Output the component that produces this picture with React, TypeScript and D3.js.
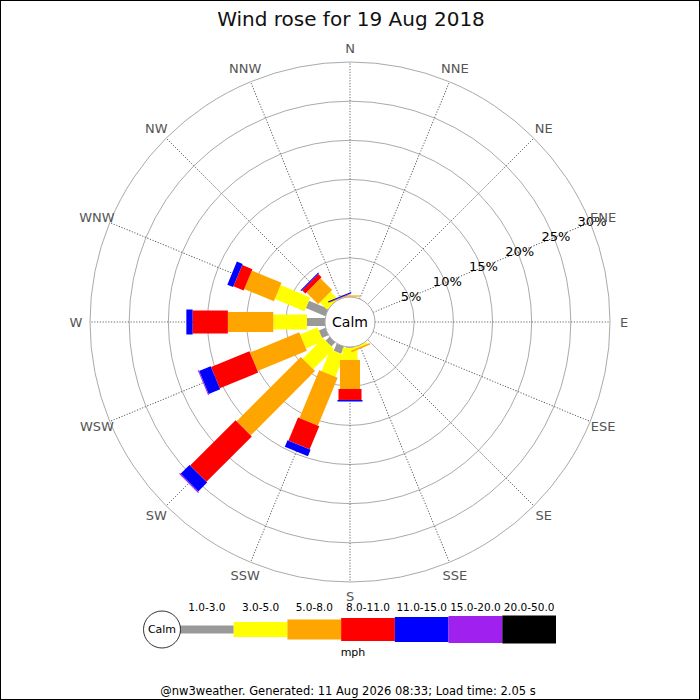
import React, { useRef, useEffect } from 'react';
import * as d3 from 'd3';

// compass points, clockwise from north
const directions = ['N', 'NNE', 'NE', 'ENE', 'E', 'ESE', 'SE', 'SSE', 'S', 'SSW', 'SW', 'WSW', 'W', 'WNW', 'NW', 'NNW'];

// % of the day in each speed band, per direction (same order as directions)
const band1to3 = [0, 0, 0, 0, 0, 0, 0, 0, 0.1, 1.0, 0.7, 0.9, 2.3, 2.7, 0, 0];
const band3to5 = [0.05, 0, 0, 0, 0, 0, 0, 0.25, 1.56, 3.0, 3.7, 2.4, 4.3, 4.1, 1.3, 0.05];
const band5to8 = [0.15, 0, 0, 0, 0, 0, 0, 0.2, 3.7, 6.6, 11.6, 6.8, 5.8, 4.1, 2.1, 0.05];
const band8to11 = [0, 0, 0, 0, 0, 0, 0, 0, 1.4, 3.2, 8.2, 5.3, 4.5, 1.4, 0.6, 0.05];
const band11to15 = [0, 0, 0, 0, 0, 0, 0, 0, 0.2, 0.9, 1.6, 1.6, 0.8, 0.8, 0.15, 0.15];
const band15to20 = [0, 0, 0, 0, 0, 0, 0, 0, 0, 0, 0.15, 0.12, 0, 0, 0, 0];
const band20to50 = [0, 0, 0, 0, 0, 0, 0, 0, 0, 0, 0, 0, 0, 0, 0, 0];

const bandLabels = ['1.0-3.0', '3.0-5.0', '5.0-8.0', '8.0-11.0', '11.0-15.0', '15.0-20.0', '20.0-50.0'];
const bandColors = ['#999999', '#ffff00', '#ffa500', '#ff0000', '#0000ff', '#a020f0', '#000000'];
const bandWidths = [8, 15, 20, 23, 25, 27, 28];

const ringTicks = [5, 10, 15, 20, 25, 30];

const WIDTH = 700;
const HEIGHT = 700;

const WindRose: React.FC = () => {
  const svgRef = useRef<SVGSVGElement | null>(null);

  useEffect(() => {
    d3.select(svgRef.current).selectAll('*').remove();

    const svg = d3.select(svgRef.current)
      .attr('width', WIDTH)
      .attr('height', HEIGHT)
      .style('font-family', 'DejaVu Sans, sans-serif');

    svg.append('rect')
      .attr('width', WIDTH).attr('height', HEIGHT)
      .attr('fill', '#fff');

    const cx = 350, cy = 322;
    const calmR = 25;

    // radial scale: % -> px, starting at the calm circle
    const r = d3.scaleLinear().domain([0, 30]).range([calmR, 260]);
    const angle = d3.scaleBand<string>().domain(directions).range([0, 360]);

    const g = svg.append('g').attr('transform', `translate(${cx},${cy})`);

    // rings
    g.selectAll('.ring')
      .data(ringTicks)
      .enter()
      .append('circle')
      .attr('r', d => r(d))
      .attr('fill', 'none')
      .attr('stroke', '#aaaaaa')
      .attr('stroke-width', 1);

    // spokes
    g.selectAll('.spoke')
      .data(directions)
      .enter()
      .append('line')
      .attr('transform', d => `rotate(${angle(d)})`)
      .attr('x1', 0).attr('y1', -calmR)
      .attr('x2', 0).attr('y2', -r(30))
      .attr('stroke', '#555')
      .attr('stroke-width', 0.9)
      .attr('stroke-dasharray', '1.2,1.6');

    // stacked bars
    const keys = bandLabels;
    const bands = [band1to3, band3to5, band5to8, band8to11, band11to15, band15to20, band20to50];
    const table = directions.map((dir, i) => {
      const row: any = { dir };
      keys.forEach((k, j) => { row[k] = bands[j][i]; });
      return row;
    });
    const stacked = d3.stack().keys(keys)(table);

    stacked.forEach((layer, j) => {
      g.append('g')
        .selectAll('rect')
        .data(layer.filter(d => d[1] - d[0] > 0))
        .enter()
        .append('rect')
        .attr('transform', d => `rotate(${angle((d.data as any).dir)})`)
        .attr('x', -bandWidths[j] / 2)
        .attr('width', bandWidths[j])
        .attr('y', d => -r(d[1]))
        .attr('height', d => r(d[1]) - r(d[0]))
        .attr('fill', bandColors[j]);
    });

    // calm circle
    g.append('circle')
      .attr('r', calmR)
      .attr('fill', '#fff')
      .attr('stroke', '#aaaaaa')
      .attr('stroke-width', 1);
    g.append('text')
      .attr('text-anchor', 'middle')
      .attr('dy', '0.35em')
      .attr('font-size', 14)
      .text('Calm');

    // ring labels along ENE
    const labelAngle = (angle('ENE') as number) * Math.PI / 180;
    g.selectAll('.ringLabel')
      .data(ringTicks)
      .enter()
      .append('text')
      .attr('x', d => (r(d) + 2) * Math.sin(labelAngle))
      .attr('y', d => -(r(d) + 2) * Math.cos(labelAngle))
      .attr('text-anchor', 'middle')
      .attr('dy', '0.35em')
      .attr('font-size', 13)
      .attr('fill', '#000')
      .text(d => `${d}%`);

    // direction labels
    const labelR = 274;
    g.selectAll('.dirLabel')
      .data(directions)
      .enter()
      .append('text')
      .attr('x', d => labelR * Math.sin((angle(d) as number) * Math.PI / 180))
      .attr('y', d => -labelR * Math.cos((angle(d) as number) * Math.PI / 180))
      .attr('text-anchor', 'middle')
      .attr('dy', '0.35em')
      .attr('font-size', 13)
      .attr('fill', '#555')
      .text(d => d);

    // title
    svg.append('text')
      .attr('x', 351).attr('y', 26)
      .attr('text-anchor', 'middle')
      .attr('font-size', 20)
      .attr('fill', '#111')
      .text('Wind rose for 19 Aug 2018');

    // legend
    const legY = 629.5;
    const legX = d3.scaleBand<string>().domain(bandLabels).range([180, 556]);
    const leg = svg.append('g');
    leg.selectAll('rect')
      .data(bandLabels)
      .enter()
      .append('rect')
      .attr('x', d => legX(d) as number)
      .attr('width', legX.bandwidth())
      .attr('y', (_, i) => legY - bandWidths[i] / 2)
      .attr('height', (_, i) => bandWidths[i])
      .attr('fill', (_, i) => bandColors[i]);
    leg.selectAll('text')
      .data(bandLabels)
      .enter()
      .append('text')
      .attr('x', d => (legX(d) as number) + legX.bandwidth() / 2)
      .attr('y', 611)
      .attr('text-anchor', 'middle')
      .attr('font-size', 10.5)
      .text(d => d);
    leg.append('circle')
      .attr('cx', 162).attr('cy', legY).attr('r', 18.5)
      .attr('fill', '#fff').attr('stroke', '#000').attr('stroke-width', 0.8);
    leg.append('text')
      .attr('x', 162).attr('y', legY)
      .attr('dy', '0.35em')
      .attr('text-anchor', 'middle')
      .attr('font-size', 11)
      .text('Calm');
    leg.append('text')
      .attr('x', 353).attr('y', 656)
      .attr('text-anchor', 'middle')
      .attr('font-size', 11)
      .text('mph');

    // footer
    svg.append('text')
      .attr('x', 348).attr('y', 695)
      .attr('text-anchor', 'middle')
      .attr('font-size', 11.5)
      .text('@nw3weather. Generated: 11 Aug 2026 08:33; Load time: 2.05 s');

    // border
    svg.append('rect')
      .attr('x', 0.5).attr('y', 0.5)
      .attr('width', WIDTH - 1).attr('height', HEIGHT - 1)
      .attr('fill', 'none')
      .attr('stroke', '#000');
  }, []);

  return (
    <div style={{ position: 'absolute', left: 0, top: 0 }}>
      <svg ref={svgRef} style={{ display: 'block' }}></svg>
    </div>
  );
};

export default function App() {
  return <WindRose />;
}
